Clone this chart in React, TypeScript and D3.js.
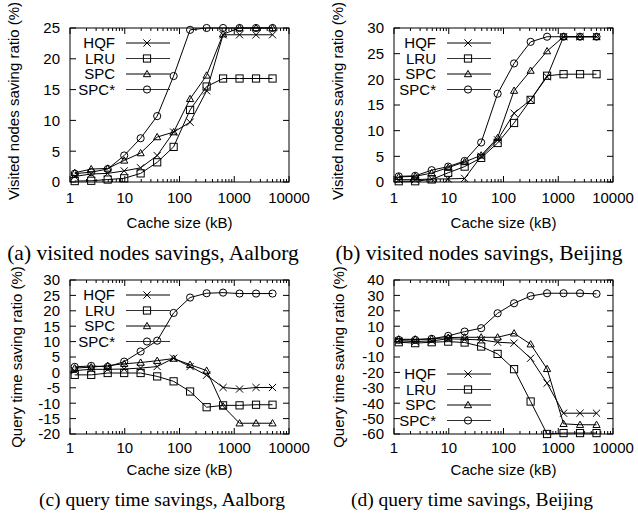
import React from "react";
import * as d3 from "d3";

// ---- data ----
const cacheSizes = [1.22, 2.44, 4.88, 9.77, 19.5, 39.1, 78.1, 156, 313, 625, 1250, 2500, 5000];
const seriesNames = ["HQF", "LRU", "SPC", "SPC*"];
const xTickValues = [1, 10, 100, 1000, 10000];

// (a) visited nodes savings, Aalborg
const aHQF = [0.9, 1.3, 1.4, 1.8, 2.3, 4.3, 8.1, 9.7, 14.8, 23.9, 23.9, 23.9, 23.9];
const aLRU = [0.15, 0.2, 0.4, 0.6, 1.4, 3.2, 5.7, 11.7, 15.5, 16.8, 16.8, 16.8, 16.8];
const aSPC = [1.5, 2.1, 2.2, 3.5, 4.7, 7.3, 8.1, 13.5, 17.3, 24.0, 25, 25, 25];
const aSPCs = [1.35, 1.6, 2.1, 4.3, 7.1, 10.7, 17.2, 24.7, 25, 25, 25, 25, 25];
const aYTicks = [0, 5, 10, 15, 20, 25];

// (b) visited nodes savings, Beijing
const bHQF = [0.45, 0.45, 0.6, 0.6, 0.7, 5.0, 8.2, 13.4, 16.0, 20.5, 28.3, 28.3, 28.3];
const bLRU = [0.15, 0.15, 0.5, 1.8, 3.0, 4.7, 7.6, 11.5, 16.0, 20.7, 21.0, 21.0, 21.0];
const bSPC = [1.0, 1.1, 1.75, 2.8, 3.9, 5.2, 8.6, 17.8, 21.7, 25.5, 28.3, 28.3, 28.3];
const bSPCs = [1.1, 1.2, 2.3, 3.0, 4.1, 7.7, 17.2, 23.1, 27.3, 28.3, 28.3, 28.3, 28.3];
const bYTicks = [0, 5, 10, 15, 20, 25, 30];

// (c) query time savings, Aalborg
const cHQF = [0.6, 1.0, 1.0, 1.1, 1.4, 1.9, 4.6, 1.9, -0.9, -4.9, -5.4, -4.9, -4.9];
const cLRU = [-0.8, -0.8, -0.2, -0.2, -0.2, -1.3, -2.9, -6.2, -11.3, -10.7, -10.7, -10.5, -10.5];
const cSPC = [1.4, 1.7, 2.2, 2.8, 3.2, 3.8, 4.5, 2.5, 0.6, -11, -16.5, -16.5, -16.5];
const cSPCs = [1.8, 2.1, 1.8, 3.5, 6.8, 10.3, 19.3, 24.3, 25.7, 25.9, 25.6, 25.6, 25.6];
const cYTicks = [-20, -15, -10, -5, 0, 5, 10, 15, 20, 25, 30];

// (d) query time savings, Beijing
const dHQF = [0.5, 0, 0.5, 1.8, 1.5, 1.1, -0.4, -1.0, -10.8, -27, -46.5, -46.5, -46.5];
const dLRU = [-0.4, -1.0, -0.4, 0, -0.6, -3.2, -8, -17.9, -38.9, -60, -59.4, -59.4, -59.4];
const dSPC = [1.5, 1.5, 1.8, 2.6, 2.8, 2.8, 2.8, 5.4, -1.7, -17.7, -53.4, -54, -54];
const dSPCs = [1.1, 1.1, 1.8, 3.7, 6.5, 8.7, 18.4, 24.9, 29.6, 31.4, 31.4, 31.4, 31.0];
const dYTicks = [-60, -50, -40, -30, -20, -10, 0, 10, 20, 30, 40];

const FONT = "'Liberation Sans', Arial, Helvetica, sans-serif";
const SERIF = "'Liberation Serif', 'Times New Roman', serif";

function Marker({ kind, x, y }: { kind: number; x: number; y: number }) {
  const s = 3.6;
  const st = { fill: "none", stroke: "#000", strokeWidth: 1 };
  if (kind === 0)
    return (
      <path d={`M${x - s},${y - s}L${x + s},${y + s}M${x - s},${y + s}L${x + s},${y - s}`} {...st} />
    );
  if (kind === 1) return <rect x={x - s} y={y - s} width={2 * s} height={2 * s} {...st} />;
  if (kind === 2)
    return <path d={`M${x},${y - s}L${x + s},${y + s * 0.75}L${x - s},${y + s * 0.75}Z`} {...st} />;
  return <circle cx={x} cy={y} r={s} {...st} />;
}

type PanelProps = {
  left: number;
  right: number;
  top: number;
  bottom: number;
  yDomain: [number, number];
  yTicks: number[];
  series: number[][];
  legendX: number;
  legendY: number[];
  yLabel: string;
  yLabelX: number;
  yLabelY: number;
  yLabelSize: number;
  xLabelY: number;
  tickLabelY: number;
  caption: string;
  captionX: number;
  captionY: number;
  captionSize: number;
};

function Panel(p: PanelProps) {
  const x = d3.scaleLog().domain([1, 10000]).range([p.left, p.right]);
  const y = d3.scaleLinear().domain(p.yDomain).range([p.bottom, p.top]);
  const line = d3
    .line<number>()
    .x((_, i) => x(cacheSizes[i]))
    .y((v) => y(v));
  const minor: number[] = [];
  for (let dec = 1; dec < 10000; dec *= 10) for (let k = 2; k <= 9; k++) minor.push(dec * k);
  const clipId = `clip-${p.left}-${p.top}`;
  const major = 6;
  const minorLen = 3;
  const cx = (p.left + p.right) / 2;
  return (
    <g>
      <defs>
        <clipPath id={clipId}>
          <rect x={p.left - 5} y={p.top - 5} width={p.right - p.left + 10} height={p.bottom - p.top + 10} />
        </clipPath>
      </defs>
      <g stroke="#000" strokeWidth={1}>
        {xTickValues.map((t) => (
          <g key={"xt" + t}>
            <line x1={x(t)} x2={x(t)} y1={p.bottom} y2={p.bottom - major} />
            <line x1={x(t)} x2={x(t)} y1={p.top} y2={p.top + major} />
          </g>
        ))}
        {minor.map((t) => (
          <g key={"xm" + t}>
            <line x1={x(t)} x2={x(t)} y1={p.bottom} y2={p.bottom - minorLen} />
            <line x1={x(t)} x2={x(t)} y1={p.top} y2={p.top + minorLen} />
          </g>
        ))}
        {p.yTicks.map((t) => (
          <g key={"yt" + t}>
            <line x1={p.left} x2={p.left + major} y1={y(t)} y2={y(t)} />
            <line x1={p.right} x2={p.right - major} y1={y(t)} y2={y(t)} />
          </g>
        ))}
      </g>
      <rect x={p.left} y={p.top} width={p.right - p.left} height={p.bottom - p.top} fill="none" stroke="#000" strokeWidth={1} />
      <g fontFamily={FONT} fontSize={15} fill="#000">
        {xTickValues.map((t) => (
          <text key={"xl" + t} x={x(t)} y={p.tickLabelY} textAnchor="middle">
            {d3.format("d")(t)}
          </text>
        ))}
        {p.yTicks.map((t) => (
          <text key={"yl" + t} x={p.left - 10} y={y(t)} dy="0.36em" textAnchor="end">
            {t}
          </text>
        ))}
      </g>
      <g clipPath={`url(#${clipId})`}>
        {p.series.map((s, si) => (
          <g key={"s" + si}>
            <path d={line(s) || ""} fill="none" stroke="#000" strokeWidth={1} />
            {s.map((v, i) => (
              <Marker key={i} kind={si} x={x(cacheSizes[i])} y={y(v)} />
            ))}
          </g>
        ))}
      </g>
      <g fontFamily={FONT} fontSize={15}>
        {seriesNames.map((n, i) => (
          <g key={n}>
            <text x={p.legendX} y={p.legendY[i]} dy="0.36em" textAnchor="end">
              {n}
            </text>
            <line x1={p.legendX + 11} x2={p.legendX + 55} y1={p.legendY[i]} y2={p.legendY[i]} stroke={i % 2 === 0 ? "#000" : "#333"} strokeWidth={1} />
            <Marker kind={i} x={p.legendX + 32} y={p.legendY[i]} />
          </g>
        ))}
      </g>
      <text x={cx} y={p.xLabelY} textAnchor="middle" fontFamily={FONT} fontSize={15}>
        Cache size (kB)
      </text>
      <text
        transform={`translate(${p.yLabelX},${p.yLabelY}) rotate(-90)`}
        textAnchor="middle"
        fontFamily={FONT}
        fontSize={p.yLabelSize}
      >
        {p.yLabel}
      </text>
      <text x={p.captionX} y={p.captionY} textAnchor="middle" fontFamily={SERIF} fontSize={p.captionSize}>
        {p.caption}
      </text>
    </g>
  );
}

export default function App() {
  const topRow = { top: 28, bottom: 182, xLabelY: 228, tickLabelY: 203, captionY: 260, captionSize: 21.5 };
  const botRow = { top: 280, bottom: 434, xLabelY: 475, tickLabelY: 453, captionY: 506, captionSize: 19.5 };
  const leftCol = { left: 70, right: 289, legendX: 115 };
  const rightCol = { left: 394, right: 613, legendX: 436 };
  return (
    <svg width={638} height={513} style={{ position: "absolute", left: 0, top: 0, background: "#fff" }}>
      <rect width={638} height={513} fill="#fff" />
      <Panel
        {...topRow}
        {...leftCol}
        captionX={153}
        yDomain={[0, 25]}
        yTicks={aYTicks}
        series={[aHQF, aLRU, aSPC, aSPCs]}
        legendY={[43, 58.5, 74, 89.5]}
        yLabel="Visited nodes saving ratio (%)"
        yLabelX={19}
        yLabelY={101}
        yLabelSize={15}
        caption="(a) visited nodes savings, Aalborg"
      />
      <Panel
        {...topRow}
        {...rightCol}
        captionX={479}
        yDomain={[0, 30]}
        yTicks={bYTicks}
        series={[bHQF, bLRU, bSPC, bSPCs]}
        legendY={[43, 58.5, 74, 89.5]}
        yLabel="Visited nodes saving ratio (%)"
        yLabelX={343}
        yLabelY={101}
        yLabelSize={15}
        caption="(b) visited nodes savings, Beijing"
      />
      <Panel
        {...botRow}
        {...leftCol}
        captionX={162}
        yDomain={[-20, 30]}
        yTicks={cYTicks}
        series={[cHQF, cLRU, cSPC, cSPCs]}
        legendY={[295, 310.5, 326, 341.5]}
        yLabel="Query time saving ratio (%)"
        yLabelX={22}
        yLabelY={357}
        yLabelSize={15}
        caption="(c) query time savings, Aalborg"
      />
      <Panel
        {...botRow}
        {...rightCol}
        captionX={472}
        yDomain={[-60, 40]}
        yTicks={dYTicks}
        series={[dHQF, dLRU, dSPC, dSPCs]}
        legendY={[374, 389.5, 405, 420.5]}
        yLabel="Query time saving ratio (%)"
        yLabelX={344}
        yLabelY={357}
        yLabelSize={15}
        caption="(d) query time savings, Beijing"
      />
    </svg>
  );
}
